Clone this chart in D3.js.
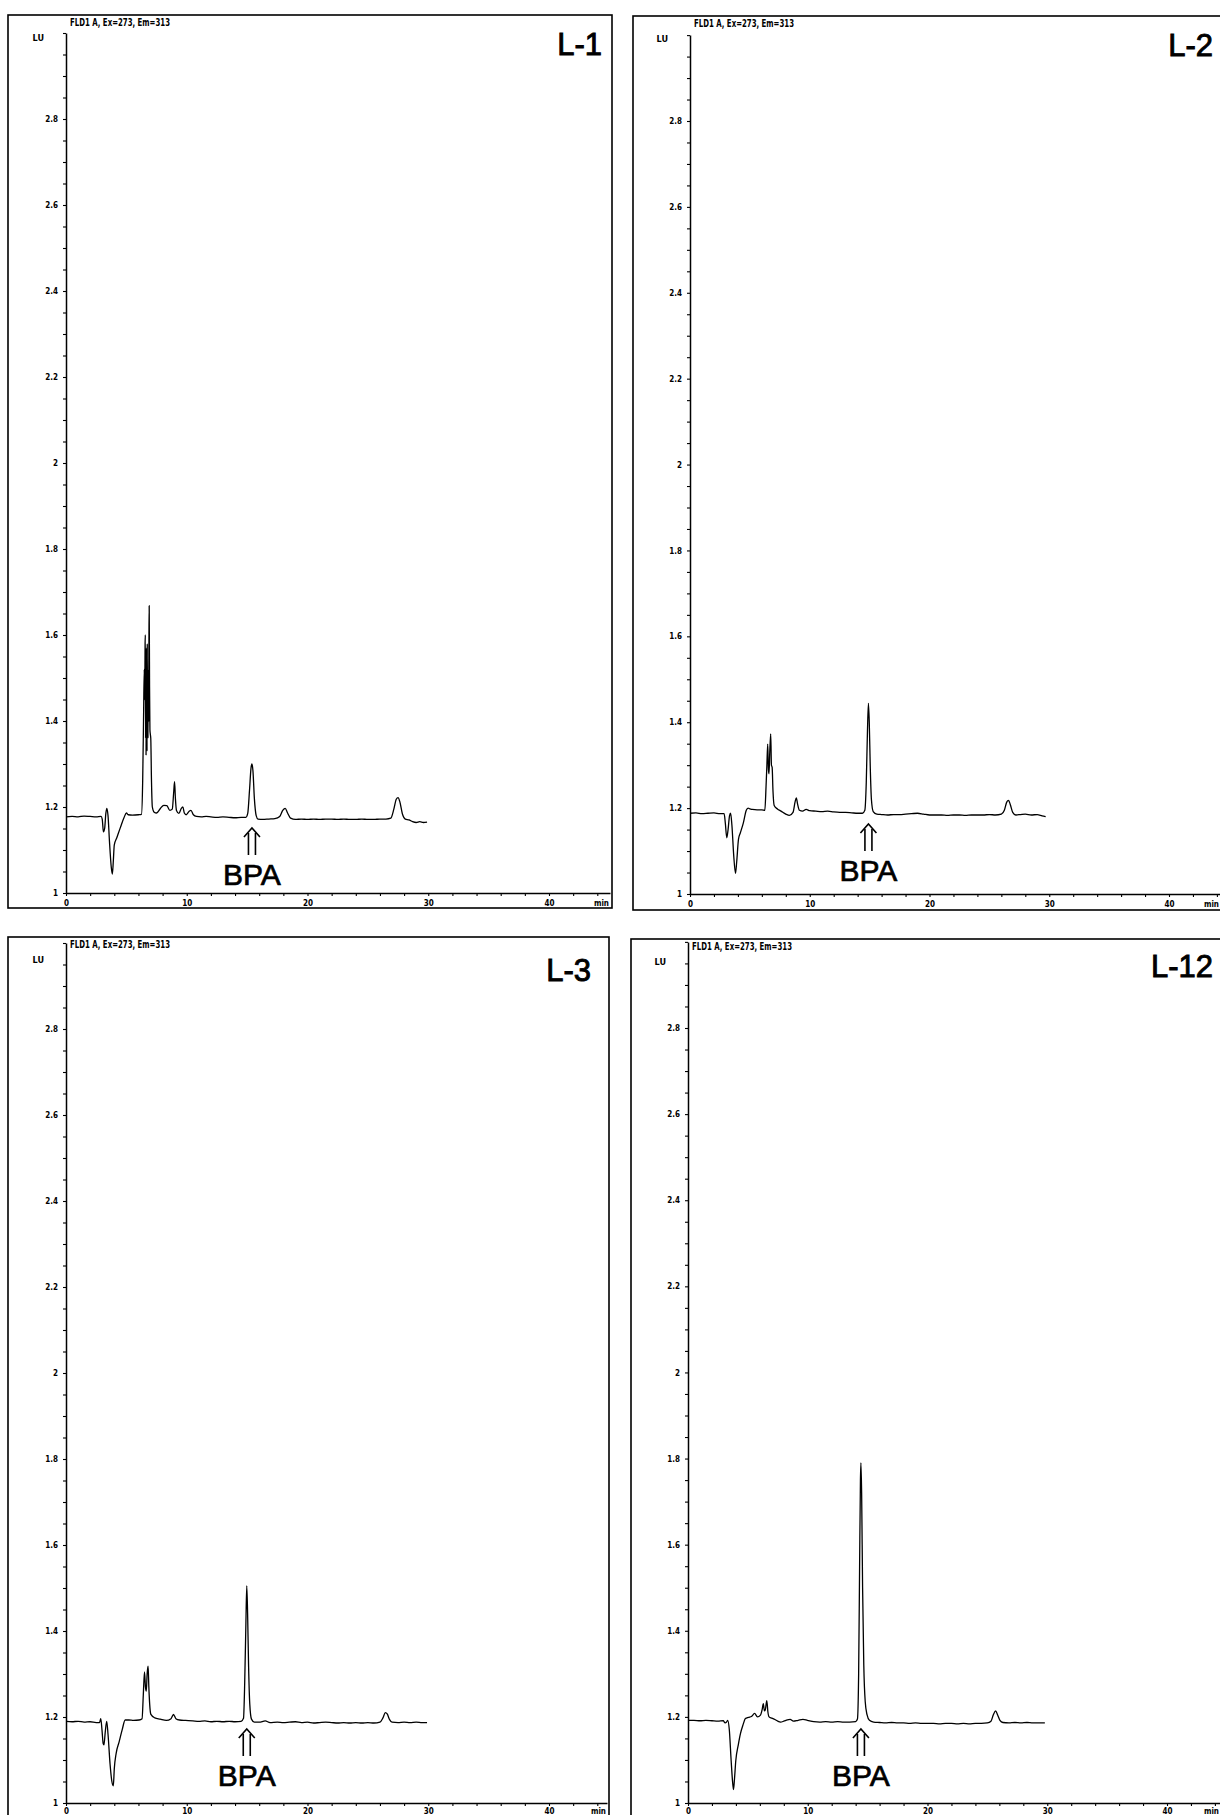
<!DOCTYPE html>
<html>
<head>
<meta charset="utf-8">
<script src="https://cdn.jsdelivr.net/npm/d3@7"></script>
<style>
  html, body { margin: 0; padding: 0; background: #fff; }
  svg { display: block; }
  .axis .tick text {
    font-family: "DejaVu Sans Condensed", "DejaVu Sans", sans-serif;
    font-stretch: condensed; font-weight: bold; font-size: 8px; fill: #000;
  }
  .axis path, .axis line { stroke: #000; }
</style>
</head>
<body>
<svg id="chart" width="1220" height="1815"></svg>
<script>
// Fluorescence chromatograms (FLD1 A, Ex=273, Em=313) for four samples.
// Each trace: [retention time (min), signal (LU)].
const sampleNames = ["L-1", "L-2", "L-3", "L-12"];
const detectorLabel = "FLD1 A, Ex=273, Em=313";
const bpaTimes = [15.4, 14.9, 14.97, 14.44];

const yMajorTicks = [1, 1.2, 1.4, 1.6, 1.8, 2, 2.2, 2.4, 2.6, 2.8];
const xMajorTicks = [0, 10, 20, 30, 40];

const traceL1 = [
  [0, 1.177], [0.5, 1.178], [1.0, 1.177], [1.5, 1.179], [2.0, 1.178], [2.5, 1.177], [2.9, 1.178],
  [3.0, 1.172], [3.1, 1.142], [3.2, 1.150], [3.3, 1.185], [3.38, 1.197], [3.48, 1.180], [3.6, 1.120],
  [3.75, 1.060], [3.84, 1.044], [3.92, 1.075], [4.0, 1.112], [4.2, 1.128], [4.5, 1.152], [4.8, 1.175],
  [5.0, 1.186], [5.15, 1.182], [5.5, 1.181], [6.0, 1.182], [6.25, 1.183], [6.35, 1.26], [6.42, 1.40],
  [6.48, 1.52], [6.52, 1.45], [6.55, 1.58], [6.57, 1.60], [6.59, 1.36], [6.61, 1.55], [6.63, 1.32],
  [6.65, 1.57], [6.67, 1.35], [6.69, 1.54], [6.71, 1.33], [6.73, 1.58], [6.75, 1.38], [6.77, 1.52],
  [6.79, 1.36], [6.81, 1.50], [6.84, 1.40], [6.87, 1.60], [6.89, 1.668], [6.92, 1.48], [6.95, 1.38],
  [6.98, 1.37], [7.02, 1.36], [7.08, 1.26],
  [7.15, 1.20], [7.3, 1.188], [7.5, 1.186], [7.8, 1.196], [8.1, 1.204], [8.35, 1.203], [8.6, 1.192],
  [8.8, 1.195], [8.92, 1.235], [8.99, 1.259], [9.06, 1.22], [9.15, 1.192], [9.35, 1.185], [9.55, 1.197],
  [9.68, 1.200], [9.8, 1.186], [9.95, 1.182], [10.2, 1.190], [10.35, 1.192], [10.55, 1.182], [10.8, 1.178],
  [11.2, 1.177], [11.6, 1.178], [12.0, 1.177], [12.5, 1.176], [13.0, 1.177], [13.5, 1.176], [14.0, 1.175],
  [14.5, 1.176], [14.9, 1.176], [15.05, 1.185], [15.2, 1.24], [15.32, 1.29], [15.4, 1.300], [15.48, 1.285],
  [15.6, 1.22], [15.75, 1.18], [15.9, 1.172], [16.3, 1.171], [16.8, 1.172], [17.3, 1.173], [17.7, 1.178],
  [17.95, 1.192], [18.15, 1.197], [18.35, 1.186], [18.6, 1.174], [19.0, 1.171], [19.5, 1.172], [20.0, 1.171],
  [20.5, 1.172], [21.0, 1.171], [21.5, 1.172], [22.0, 1.172], [22.5, 1.171], [23.0, 1.172], [23.5, 1.171],
  [24.0, 1.171], [24.5, 1.172], [25.0, 1.171], [25.5, 1.171], [26.0, 1.172], [26.5, 1.172], [26.9, 1.174],
  [27.15, 1.195], [27.35, 1.218], [27.5, 1.222], [27.65, 1.212], [27.85, 1.185], [28.1, 1.172], [28.4, 1.170],
  [28.7, 1.166], [29.0, 1.164], [29.3, 1.166], [29.6, 1.164], [29.9, 1.165]
];

const traceL2 = [
  [0, 1.188], [0.5, 1.189], [1.0, 1.187], [1.5, 1.188], [2.0, 1.189], [2.5, 1.187], [2.85, 1.187],
  [2.95, 1.165], [3.07, 1.131], [3.18, 1.150], [3.3, 1.182], [3.39, 1.188], [3.5, 1.160], [3.65, 1.090],
  [3.8, 1.048], [3.9, 1.075], [4.05, 1.128], [4.2, 1.142], [4.45, 1.165], [4.7, 1.195], [4.85, 1.200],
  [5.0, 1.198], [5.2, 1.197], [5.6, 1.196], [6.0, 1.196], [6.25, 1.195], [6.35, 1.25], [6.42, 1.30],
  [6.49, 1.349], [6.55, 1.29], [6.6, 1.28], [6.66, 1.33], [6.74, 1.373], [6.8, 1.30], [6.86, 1.295],
  [6.93, 1.24], [7.03, 1.206], [7.3, 1.198], [7.6, 1.193], [8.0, 1.186], [8.3, 1.183], [8.6, 1.190],
  [8.78, 1.215], [8.88, 1.224], [8.98, 1.21], [9.14, 1.195], [9.4, 1.193], [9.7, 1.197], [10.0, 1.194],
  [10.5, 1.193], [11.0, 1.192], [11.5, 1.193], [12.0, 1.191], [12.5, 1.190], [13.0, 1.190], [13.5, 1.189],
  [14.0, 1.188], [14.4, 1.188], [14.6, 1.195], [14.72, 1.26], [14.82, 1.38], [14.9, 1.444], [14.97, 1.40],
  [15.05, 1.30], [15.15, 1.22], [15.3, 1.192], [15.6, 1.186], [16.0, 1.185], [16.5, 1.184], [17.0, 1.185],
  [17.5, 1.185], [18.0, 1.186], [18.5, 1.187], [19.0, 1.188], [19.5, 1.186], [20.0, 1.184], [20.5, 1.184],
  [21.0, 1.184], [21.5, 1.183], [22.0, 1.184], [22.5, 1.184], [23.0, 1.183], [23.5, 1.184], [24.0, 1.184],
  [24.5, 1.184], [25.0, 1.185], [25.5, 1.184], [26.0, 1.186], [26.25, 1.195], [26.45, 1.214], [26.6, 1.218],
  [26.75, 1.208], [26.95, 1.190], [27.2, 1.184], [27.6, 1.185], [28.0, 1.186], [28.5, 1.184], [29.0, 1.185],
  [29.4, 1.182], [29.7, 1.180]
];

const traceL3 = [
  [0, 1.190], [0.5, 1.189], [1.0, 1.190], [1.5, 1.188], [2.0, 1.189], [2.5, 1.187], [2.78, 1.187],
  [2.88, 1.196], [2.98, 1.17], [3.08, 1.138], [3.14, 1.135], [3.25, 1.165], [3.37, 1.190], [3.48, 1.160],
  [3.65, 1.090], [3.8, 1.050], [3.92, 1.040], [4.0, 1.08], [4.15, 1.115], [4.4, 1.142], [4.65, 1.170],
  [4.9, 1.193], [5.2, 1.193], [5.6, 1.192], [6.05, 1.193], [6.3, 1.196], [6.4, 1.25], [6.5, 1.305],
  [6.58, 1.27], [6.65, 1.26], [6.72, 1.30], [6.8, 1.318], [6.86, 1.27], [6.93, 1.23], [7.03, 1.206],
  [7.35, 1.198], [7.8, 1.195], [8.3, 1.192], [8.7, 1.196], [8.9, 1.206], [9.1, 1.196], [9.4, 1.193],
  [9.9, 1.192], [10.5, 1.191], [11.0, 1.190], [11.5, 1.191], [12.0, 1.189], [12.5, 1.190], [13.0, 1.189],
  [13.5, 1.190], [14.0, 1.189], [14.5, 1.190], [14.7, 1.197], [14.8, 1.28], [14.9, 1.42], [14.97, 1.505],
  [15.04, 1.44], [15.12, 1.32], [15.22, 1.23], [15.36, 1.195], [15.6, 1.188], [16.0, 1.188], [16.5, 1.191],
  [16.9, 1.187], [17.5, 1.188], [18.0, 1.187], [18.5, 1.188], [19.0, 1.189], [19.5, 1.187], [20.0, 1.188],
  [20.5, 1.186], [21.0, 1.187], [21.5, 1.188], [22.0, 1.187], [22.5, 1.186], [23.0, 1.187], [23.5, 1.186],
  [24.0, 1.187], [24.5, 1.186], [25.0, 1.187], [25.5, 1.186], [26.0, 1.188], [26.25, 1.198], [26.45, 1.210],
  [26.6, 1.207], [26.8, 1.194], [27.0, 1.188], [27.5, 1.187], [28.0, 1.188], [28.5, 1.187], [29.0, 1.188],
  [29.5, 1.187], [29.9, 1.187]
];

const traceL12 = [
  [0, 1.192], [0.5, 1.192], [1.0, 1.191], [1.5, 1.192], [2.0, 1.191], [2.5, 1.190], [2.94, 1.191],
  [3.1, 1.186], [3.22, 1.188], [3.32, 1.192], [3.45, 1.17], [3.6, 1.10], [3.72, 1.05], [3.8, 1.031],
  [3.88, 1.055], [3.99, 1.098], [4.2, 1.135], [4.38, 1.161], [4.6, 1.182], [4.79, 1.196], [5.05, 1.199],
  [5.3, 1.201], [5.56, 1.208], [5.8, 1.200], [6.05, 1.204], [6.2, 1.218], [6.29, 1.231], [6.38, 1.214],
  [6.45, 1.216], [6.58, 1.238], [6.67, 1.212], [6.77, 1.200], [7.0, 1.197], [7.25, 1.194], [7.5, 1.190],
  [7.73, 1.188], [8.0, 1.190], [8.3, 1.193], [8.53, 1.194], [8.8, 1.190], [9.2, 1.192], [9.6, 1.194],
  [9.97, 1.192], [10.5, 1.189], [11.0, 1.188], [11.5, 1.189], [12.0, 1.188], [12.5, 1.189], [13.0, 1.188],
  [13.5, 1.188], [14.0, 1.189], [14.15, 1.195], [14.25, 1.30], [14.33, 1.55], [14.4, 1.75], [14.44, 1.79],
  [14.5, 1.72], [14.58, 1.50], [14.68, 1.32], [14.8, 1.235], [14.95, 1.205], [15.15, 1.192], [15.5, 1.188],
  [16.0, 1.187], [16.5, 1.186], [17.0, 1.187], [17.5, 1.186], [18.0, 1.186], [18.5, 1.185], [19.0, 1.186],
  [19.5, 1.185], [20.0, 1.185], [20.5, 1.185], [21.0, 1.184], [21.5, 1.185], [22.0, 1.185], [22.5, 1.184],
  [23.0, 1.185], [23.5, 1.184], [24.0, 1.185], [24.5, 1.185], [25.0, 1.186], [25.3, 1.190], [25.5, 1.205],
  [25.69, 1.214], [25.85, 1.205], [26.05, 1.192], [26.3, 1.187], [26.8, 1.186], [27.3, 1.187], [27.8, 1.186],
  [28.3, 1.187], [28.8, 1.186], [29.3, 1.186], [29.8, 1.186]
];

const traces = [traceL1, traceL2, traceL3, traceL12];

// Panel geometry (pixels): outer frame, axis placement, label anchors.
const layout = [
  { frame: [8, 15, 612, 908],      x0: 66,  x40: 549,  yAt1: 893,  yAt28: 119,  nameX: 602,  nameY: 55,  arrowTop: 828,  labelPad: 4, minX: 609 },
  { frame: [633, 16, 1260, 910],   x0: 690, x40: 1169, yAt1: 894,  yAt28: 121,  nameX: 1213, nameY: 56,  arrowTop: 824,  labelPad: 4, minX: 1219 },
  { frame: [8, 937, 609, 1860],    x0: 66,  x40: 549,  yAt1: 1803, yAt28: 1029, nameX: 591,  nameY: 981, arrowTop: 1729, labelPad: 2, minX: 606 },
  { frame: [631, 939, 1260, 1860], x0: 688, x40: 1167, yAt1: 1803, yAt28: 1028, nameX: 1213, nameY: 977, arrowTop: 1729, labelPad: 2, minX: 1219 }
];

const svg = d3.select("#chart");
svg.append("rect").attr("width", 1220).attr("height", 1815).attr("fill", "#fff");

const fmt = d => String(+d.toFixed(2));
const isMajorY = d => yMajorTicks.some(m => Math.abs(m - d) < 1e-6);
const yMinor = d3.range(1, 3.0001, 0.05).map(v => +v.toFixed(2));
const xMinor = d3.range(0, 45, 2);

const line = d3.line().curve(d3.curveMonotoneX);

layout.forEach((p, i) => {
  const g = svg.append("g");
  const [fx0, fy0, fx1, fy1] = p.frame;

  // outer frame
  g.append("rect")
    .attr("x", fx0).attr("y", fy0)
    .attr("width", fx1 - fx0).attr("height", fy1 - fy0)
    .attr("fill", "none").attr("stroke", "#000").attr("stroke-width", 1.6);

  // time axis runs on to the right edge of the frame
  const pxPerMin = (p.x40 - p.x0) / 40;
  const xEnd = Math.min(fx1 - 2, 1220);
  const x = d3.scaleLinear().domain([0, (xEnd - p.x0) / pxPerMin]).range([p.x0, xEnd]);
  const pxPerLU = (p.yAt1 - p.yAt28) / 1.8;
  const y = d3.scaleLinear().domain([1, 3]).range([p.yAt1, p.yAt1 - 2 * pxPerLU]);

  // y axis
  g.append("g").attr("class", "axis")
    .attr("transform", `translate(${p.x0},0)`)
    .call(d3.axisLeft(y).tickValues(yMinor).tickSize(3).tickSizeOuter(0).tickPadding(5)
      .tickFormat(d => isMajorY(d) ? fmt(d) : ""))
    .call(s => s.select(".domain").attr("stroke-width", 1.5))
    .call(s => s.selectAll(".tick line").attr("stroke-width", 1.1));

  // x axis
  g.append("g").attr("class", "axis")
    .attr("transform", `translate(0,${p.yAt1})`)
    .call(d3.axisBottom(x).tickValues(xMinor.filter(v => x(v) <= xEnd)).tickSize(3).tickSizeOuter(0)
      .tickPadding(p.labelPad)
      .tickFormat(d => xMajorTicks.includes(d) ? fmt(d) : ""))
    .call(s => s.select(".domain").attr("stroke-width", 1.5))
    .call(s => s.selectAll(".tick line").attr("stroke-width", 1.1));

  // unit labels
  g.append("text")
    .attr("x", p.x0 - 22).attr("y", fy0 + 26)
    .attr("text-anchor", "end")
    .style("font-family", "'DejaVu Sans Condensed','DejaVu Sans',sans-serif")
    .style("font-stretch", "condensed").style("font-weight", "bold").style("font-size", "9px")
    .text("LU");
  g.append("text")
    .attr("x", p.minX).attr("y", p.yAt1 + 9 + p.labelPad)
    .attr("text-anchor", "end")
    .style("font-family", "'DejaVu Sans Condensed','DejaVu Sans',sans-serif")
    .style("font-stretch", "condensed").style("font-weight", "bold").style("font-size", "8px")
    .text("min");

  // detector / signal header
  g.append("text")
    .attr("x", p.x0 + 4).attr("y", fy0 + 11)
    .attr("textLength", 100).attr("lengthAdjust", "spacingAndGlyphs")
    .style("font-family", "'Liberation Sans Narrow','DejaVu Sans Condensed',sans-serif")
    .style("font-weight", "bold").style("font-size", "10px")
    .text(detectorLabel);

  // sample name
  g.append("text")
    .attr("x", p.nameX).attr("y", p.nameY)
    .attr("text-anchor", "end")
    .style("font-family", "'Liberation Sans',Arial,sans-serif")
    .style("font-size", "31px")
    .attr("stroke", "#000").attr("stroke-width", 0.9)
    .text(sampleNames[i]);

  // chromatogram trace
  g.append("path")
    .datum(traces[i])
    .attr("d", line.x(d => x(d[0])).y(d => y(d[1])))
    .attr("fill", "none").attr("stroke", "#000").attr("stroke-width", 1.3)
    .attr("stroke-linejoin", "round");

  // BPA marker: double-shaft arrow under the peak, then the label
  const bx = x(bpaTimes[i]);
  const top = p.arrowTop;
  const arrow = g.append("g").attr("fill", "none").attr("stroke", "#000").attr("stroke-width", 1.6);
  arrow.append("path").attr("d", `M${bx - 8},${top + 9} L${bx},${top} L${bx + 8},${top + 9}`);
  arrow.append("path").attr("d", `M${bx - 3.5},${top + 5} V${top + 27} M${bx + 3.5},${top + 5} V${top + 27}`);
  g.append("text")
    .attr("x", bx).attr("y", top + 57)
    .attr("text-anchor", "middle")
    .style("font-family", "'Liberation Sans',Arial,sans-serif")
    .style("font-size", "30px")
    .attr("stroke", "#000").attr("stroke-width", 0.7)
    .text("BPA");
});
</script>
</body>
</html>
